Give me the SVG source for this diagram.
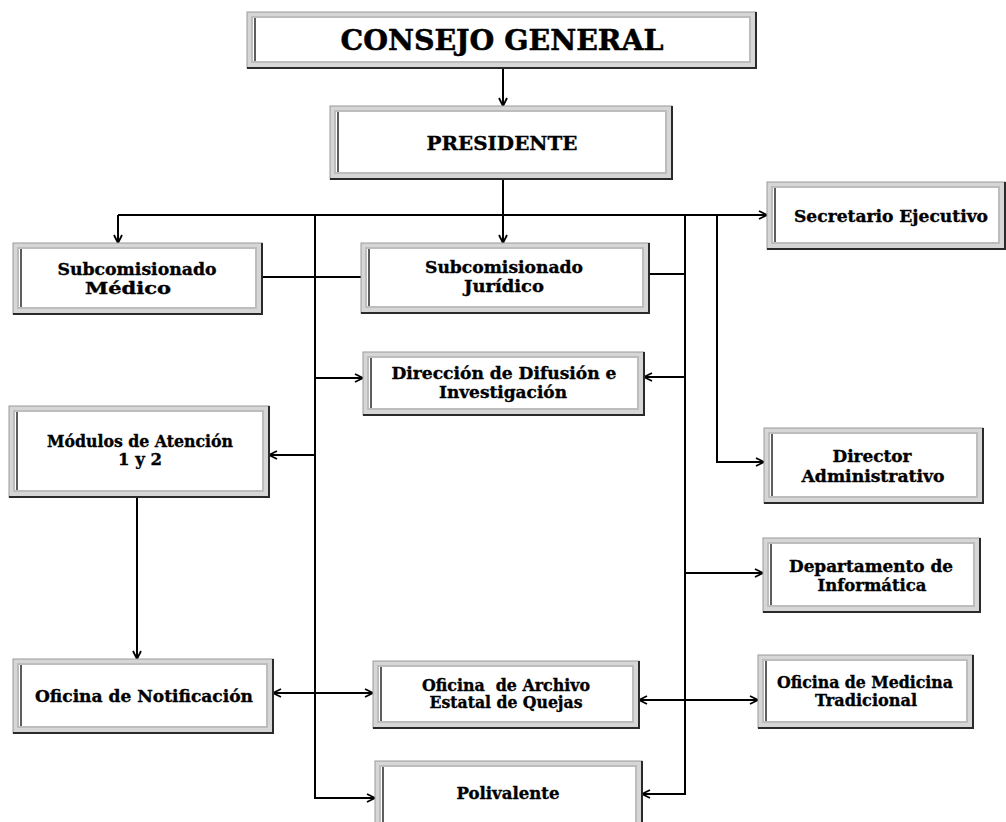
<svg xmlns="http://www.w3.org/2000/svg" width="1006" height="822" viewBox="0 0 1006 822">
<defs>
<style>
.outer{fill:#d6d6d6;stroke:#9a9a9a;stroke-width:1}
.shade{fill:none;stroke:#2a2a2a;stroke-width:2}
.inner{fill:#ffffff;stroke:#bdbdbd;stroke-width:2}
.lft{stroke:#5e5e5e;stroke-width:2}
.t{font-family:"DejaVu Serif","Liberation Serif",serif;font-weight:bold;fill:#000;stroke:#000;stroke-width:0.35;text-anchor:middle;font-size:16px}
.big{font-size:28px;stroke-width:0.5}
.mid{font-size:19px}
.c{fill:none;stroke:#000;stroke-width:2}
</style>
<marker id="ah" viewBox="0 0 10 10" refX="9" refY="5" markerWidth="10" markerHeight="10" markerUnits="userSpaceOnUse" orient="auto-start-reverse">
<path d="M1,1 L9,5 L1,9" fill="none" stroke="#000" stroke-width="1.8"/>
</marker>
</defs>
<rect width="1006" height="822" fill="#fff"/>

<g id="connectors">
<path class="c" d="M503,68 V106" marker-end="url(#ah)"/>
<path class="c" d="M503,178 V243" marker-end="url(#ah)"/>
<path class="c" d="M118,215 H767" marker-end="url(#ah)"/>
<path class="c" d="M118,215 V243" marker-end="url(#ah)"/>
<path class="c" d="M315,215 V798 H375" marker-end="url(#ah)"/>
<path class="c" d="M685,216 V794 H642" marker-end="url(#ah)"/>
<path class="c" d="M717,216 V462 H764" marker-end="url(#ah)"/>
<path class="c" d="M262,277 H361"/>
<path class="c" d="M649,274 H685"/>
<path class="c" d="M315,378 H363" marker-end="url(#ah)"/>
<path class="c" d="M685,377 H644" marker-end="url(#ah)"/>
<path class="c" d="M315,455 H269" marker-end="url(#ah)"/>
<path class="c" d="M137,497 V659" marker-end="url(#ah)"/>
<path class="c" d="M273,693 H373" marker-start="url(#ah)" marker-end="url(#ah)"/>
<path class="c" d="M639,700 H758" marker-start="url(#ah)" marker-end="url(#ah)"/>
<path class="c" d="M685,573 H763" marker-end="url(#ah)"/>
</g>

<g id="consejo">
<rect class="outer" x="247" y="12" width="509" height="56"/>
<path class="shade" d="M756,12 V68 H247"/>
<rect class="inner" x="252" y="17" width="498" height="45"/>
<line class="lft" x1="255" y1="18" x2="255" y2="61"/>
<text class="t big" x="502" y="50" textLength="323" lengthAdjust="spacingAndGlyphs">CONSEJO GENERAL</text>
</g>

<g id="presidente">
<rect class="outer" x="330" y="106" width="342" height="73"/>
<path class="shade" d="M672,106 V179 H330"/>
<rect class="inner" x="335" y="111" width="331" height="62"/>
<line class="lft" x1="338" y1="112" x2="338" y2="172"/>
<text class="t mid" x="502" y="150" textLength="151" lengthAdjust="spacingAndGlyphs">PRESIDENTE</text>
</g>

<g id="medico">
<rect class="outer" x="13" y="243" width="249" height="71"/>
<path class="shade" d="M262,243 V314 H13"/>
<rect class="inner" x="18" y="248" width="238" height="60"/>
<line class="lft" x1="21" y1="249" x2="21" y2="307"/>
<text class="t" x="137" y="275" textLength="159" lengthAdjust="spacingAndGlyphs">Subcomisionado</text>
<text class="t" x="128" y="294" textLength="86" lengthAdjust="spacingAndGlyphs">Médico</text>
</g>

<g id="juridico">
<rect class="outer" x="361" y="243" width="288" height="70"/>
<path class="shade" d="M649,243 V313 H361"/>
<rect class="inner" x="366" y="248" width="277" height="59"/>
<line class="lft" x1="369" y1="249" x2="369" y2="306"/>
<text class="t" x="504" y="273" textLength="158" lengthAdjust="spacingAndGlyphs">Subcomisionado</text>
<text class="t" x="504" y="292" textLength="80" lengthAdjust="spacingAndGlyphs">Jurídico</text>
</g>

<g id="difusion">
<rect class="outer" x="363" y="352" width="281" height="63"/>
<path class="shade" d="M644,352 V415 H363"/>
<rect class="inner" x="368" y="357" width="270" height="52"/>
<line class="lft" x1="371" y1="358" x2="371" y2="408"/>
<text class="t" x="504" y="379" textLength="225" lengthAdjust="spacingAndGlyphs">Dirección de Difusión e</text>
<text class="t" x="503" y="398" textLength="128" lengthAdjust="spacingAndGlyphs">Investigación</text>
</g>

<g id="secretario">
<rect class="outer" x="767" y="182" width="238" height="67"/>
<path class="shade" d="M1005,182 V249 H767"/>
<rect class="inner" x="772" y="187" width="227" height="56"/>
<line class="lft" x1="775" y1="188" x2="775" y2="242"/>
<text class="t" x="891" y="222" textLength="194" lengthAdjust="spacingAndGlyphs">Secretario Ejecutivo</text>
</g>

<g id="modulos">
<rect class="outer" x="9" y="406" width="260" height="91"/>
<path class="shade" d="M269,406 V497 H9"/>
<rect class="inner" x="14" y="411" width="249" height="80"/>
<line class="lft" x1="17" y1="412" x2="17" y2="490"/>
<text class="t" x="140" y="447" textLength="186" lengthAdjust="spacingAndGlyphs">Módulos de Atención</text>
<text class="t" x="140" y="465" textLength="44" lengthAdjust="spacingAndGlyphs">1 y 2</text>
</g>

<g id="director">
<rect class="outer" x="764" y="428" width="219" height="75"/>
<path class="shade" d="M983,428 V503 H764"/>
<rect class="inner" x="769" y="433" width="208" height="64"/>
<line class="lft" x1="772" y1="434" x2="772" y2="496"/>
<text class="t" x="872" y="462" textLength="79" lengthAdjust="spacingAndGlyphs">Director</text>
<text class="t" x="873" y="482" textLength="143" lengthAdjust="spacingAndGlyphs">Administrativo</text>
</g>

<g id="informatica">
<rect class="outer" x="763" y="538" width="217" height="74"/>
<path class="shade" d="M980,538 V612 H763"/>
<rect class="inner" x="768" y="543" width="206" height="63"/>
<line class="lft" x1="771" y1="544" x2="771" y2="605"/>
<text class="t" x="871" y="572" textLength="164" lengthAdjust="spacingAndGlyphs">Departamento de</text>
<text class="t" x="872" y="591" textLength="109" lengthAdjust="spacingAndGlyphs">Informática</text>
</g>

<g id="notificacion">
<rect class="outer" x="13" y="659" width="260" height="74"/>
<path class="shade" d="M273,659 V733 H13"/>
<rect class="inner" x="18" y="664" width="249" height="63"/>
<line class="lft" x1="21" y1="665" x2="21" y2="726"/>
<text class="t" x="144" y="702" textLength="218" lengthAdjust="spacingAndGlyphs">Oficina de Notificación</text>
</g>

<g id="archivo">
<rect class="outer" x="373" y="661" width="266" height="67"/>
<path class="shade" d="M639,661 V728 H373"/>
<rect class="inner" x="378" y="666" width="255" height="56"/>
<line class="lft" x1="381" y1="667" x2="381" y2="721"/>
<text class="t" x="506" y="691" textLength="168" lengthAdjust="spacingAndGlyphs" xml:space="preserve">Oficina  de Archivo</text>
<text class="t" x="506" y="708" textLength="153" lengthAdjust="spacingAndGlyphs">Estatal de Quejas</text>
</g>

<g id="polivalente">
<rect class="outer" x="375" y="761" width="267" height="70"/>
<path class="shade" d="M642,761 V831 H375"/>
<rect class="inner" x="380" y="766" width="256" height="59"/>
<line class="lft" x1="383" y1="767" x2="383" y2="824"/>
<text class="t" x="508" y="799" textLength="103" lengthAdjust="spacingAndGlyphs">Polivalente</text>
</g>

<g id="medicina">
<rect class="outer" x="758" y="655" width="215" height="73"/>
<path class="shade" d="M973,655 V728 H758"/>
<rect class="inner" x="763" y="660" width="204" height="62"/>
<line class="lft" x1="766" y1="661" x2="766" y2="721"/>
<text class="t" x="865" y="688" textLength="176" lengthAdjust="spacingAndGlyphs">Oficina de Medicina</text>
<text class="t" x="866" y="706" textLength="102" lengthAdjust="spacingAndGlyphs">Tradicional</text>
</g>
</svg>
